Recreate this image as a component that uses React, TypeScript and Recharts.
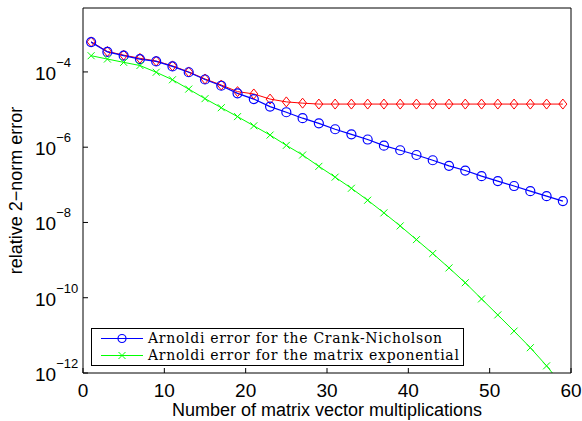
import { LineChart, Line, XAxis, YAxis, Legend } from 'recharts'

// number of matrix-vector multiplications (odd steps)
const steps = [1, 3, 5, 7, 9, 11, 13, 15, 17, 19, 21, 23, 25, 27, 29, 31, 33, 35, 37, 39, 41, 43, 45, 47, 49, 51, 53, 55, 57, 59]

// Arnoldi error for the Crank-Nicholson (blue circles)
const crankNicholson = [
  6.2e-4, 3.4e-4, 2.7e-4, 2.2e-4, 1.9e-4, 1.4e-4, 9.8e-5, 6.3e-5, 4.3e-5, 2.7e-5,
  1.9e-5, 1.2e-5, 8.5e-6, 5.9e-6, 4.3e-6, 3.0e-6, 2.2e-6, 1.6e-6, 1.1e-6, 8.3e-7,
  6.2e-7, 4.5e-7, 3.2e-7, 2.4e-7, 1.7e-7, 1.26e-7, 9.3e-8, 6.8e-8, 5.0e-8, 3.7e-8,
]

// red diamonds, levels off around 1.4e-5 (not in legend)
const crankNicholsonTotal = [
  6.3e-4, 3.5e-4, 2.8e-4, 2.3e-4, 1.95e-4, 1.45e-4, 1.0e-4, 6.5e-5, 4.5e-5, 3.0e-5,
  2.6e-5, 1.9e-5, 1.6e-5, 1.48e-5, 1.4e-5, 1.4e-5, 1.4e-5, 1.4e-5, 1.4e-5, 1.4e-5,
  1.4e-5, 1.4e-5, 1.4e-5, 1.4e-5, 1.4e-5, 1.4e-5, 1.4e-5, 1.4e-5, 1.4e-5, 1.4e-5,
]

// Arnoldi error for the matrix exponential (green crosses)
const matrixExponential = [
  2.7e-4, 2.2e-4, 1.8e-4, 1.48e-4, 9.8e-5, 6.2e-5, 3.5e-5, 1.95e-5, 1.12e-5, 6.5e-6,
  3.7e-6, 2.1e-6, 1.12e-6, 6.2e-7, 3.1e-7, 1.6e-7, 8.1e-8, 3.9e-8, 1.8e-8, 8.1e-9,
  3.5e-9, 1.5e-9, 6.2e-10, 2.5e-10, 9.3e-11, 3.5e-11, 1.3e-11, 4.7e-12, 1.55e-12, 4.5e-13,
]

const xTicks = [0, 10, 20, 30, 40, 50, 60]
const yTicks = [1e-12, 1e-10, 1e-8, 1e-6, 1e-4]

const data = steps.map((s, i) => ({
  step: s,
  cn: crankNicholson[i],
  total: crankNicholsonTotal[i],
  expm: matrixExponential[i],
}))

const BLUE = '#0000ff'
const RED = '#ff0000'
const GREEN = '#00ff00'
const SANS = '"Liberation Sans", Arial, sans-serif'
const SERIF = '"DejaVu Serif", "Liberation Serif", serif'

const CircleDot = (p: any) =>
  p.cx == null ? null : (
    <circle key={`c-${p.index}`} cx={p.cx} cy={p.cy} r={4.5} fill="none" stroke={BLUE} strokeWidth={1.2} />
  )

const DiamondDot = (p: any) =>
  p.cx == null ? null : (
    <polygon
      key={`d-${p.index}`}
      points={`${p.cx},${p.cy - 5} ${p.cx + 4},${p.cy} ${p.cx},${p.cy + 5} ${p.cx - 4},${p.cy}`}
      fill="none"
      stroke={RED}
      strokeWidth={1}
    />
  )

const CrossDot = (p: any) =>
  p.cx == null ? null : (
    <path
      key={`x-${p.index}`}
      d={`M${p.cx - 3.5},${p.cy - 3.5}L${p.cx + 3.5},${p.cy + 3.5}M${p.cx - 3.5},${p.cy + 3.5}L${p.cx + 3.5},${p.cy - 3.5}`}
      stroke={GREEN}
      strokeWidth={1}
    />
  )

const PowerTick = ({ x, y, payload }: any) => {
  const exp = Math.round(Math.log10(payload.value))
  return (
    <text x={x - 53} y={y + 8} fontFamily={SANS} fontSize={19} fill="#000">
      10
      <tspan dy={-13} fontSize={13}>{'\u2212' + Math.abs(exp)}</tspan>
    </text>
  )
}

const NumberTick = ({ x, y, payload }: any) => (
  <text x={x} y={y + 29} textAnchor="middle" fontFamily={SANS} fontSize={19} fill="#000">
    {payload.value}
  </text>
)

const XTitle = ({ viewBox }: any) => (
  <text
    x={viewBox.x + viewBox.width / 2}
    y={viewBox.y + 43}
    textAnchor="middle"
    fontFamily={SANS}
    fontSize={18}
    fill="#000"
  >
    Number of matrix vector multiplications
  </text>
)

const YTitle = ({ viewBox }: any) => {
  const cx = 16
  const cy = viewBox.y + viewBox.height / 2
  return (
    <text
      x={cx}
      y={cy}
      transform={`rotate(-90 ${cx} ${cy})`}
      textAnchor="middle"
      dominantBaseline="central"
      fontFamily={SANS}
      fontSize={18}
      fill="#000"
    >
      relative 2−norm error
    </text>
  )
}

const LegendBox = ({ payload }: any) => (
  <div
    style={{
      border: '1px solid #000',
      background: '#fff',
      width: 371,
      height: 35,
      paddingTop: 1,
      fontFamily: SERIF,
      fontSize: 14,
      letterSpacing: 0.7,
      color: '#000',
    }}
  >
    {(payload || [])
      .filter((item: any) => item.dataKey !== 'total')
      .map((item: any) => (
        <div key={item.value} style={{ display: 'flex', alignItems: 'center', height: 17, whiteSpace: 'nowrap' }}>
          <svg width={56} height={17} style={{ flex: 'none' }}>
            <line x1={9} y1={8.5} x2={51} y2={8.5} stroke={item.color} strokeWidth={1.2} />
            {item.dataKey === 'cn' ? (
              <circle cx={30} cy={8.5} r={4} fill="none" stroke={item.color} strokeWidth={1.2} />
            ) : (
              <path d="M26.5,5L33.5,12M26.5,12L33.5,5" stroke={item.color} strokeWidth={1} />
            )}
          </svg>
          <span style={{ lineHeight: '17px' }}>{item.value}</span>
        </div>
      ))}
  </div>
)

export default function App() {
  return (
    <div style={{ position: 'absolute', left: 0, top: 0, width: 582, height: 421, background: '#fff' }}>
      <LineChart width={582} height={421} data={data} margin={{ top: 7, right: 10, bottom: 0, left: 0 }}>
        <XAxis
          dataKey="step"
          type="number"
          domain={[0, 60]}
          ticks={xTicks}
          height={48}
          tickSize={-5}
          tickMargin={0}
          tick={<NumberTick />}
          axisLine={{ stroke: '#000' }}
          tickLine={{ stroke: '#000' }}
          label={XTitle}
        />
        <XAxis
          xAxisId="top"
          orientation="top"
          dataKey="step"
          type="number"
          domain={[0, 60]}
          ticks={xTicks}
          height={1}
          tickSize={-5}
          tick={false}
          axisLine={{ stroke: '#000' }}
          tickLine={{ stroke: '#000' }}
        />
        <YAxis
          scale="log"
          type="number"
          domain={[1e-12, 5e-3]}
          allowDataOverflow
          ticks={yTicks}
          width={83}
          tickSize={-5}
          tickMargin={0}
          tick={<PowerTick />}
          axisLine={{ stroke: '#000' }}
          tickLine={{ stroke: '#000' }}
          label={YTitle}
        />
        <YAxis
          yAxisId="right"
          orientation="right"
          scale="log"
          type="number"
          domain={[1e-12, 5e-3]}
          allowDataOverflow
          ticks={yTicks}
          width={1}
          tickSize={-5}
          tick={false}
          axisLine={{ stroke: '#000' }}
          tickLine={{ stroke: '#000' }}
        />
        <Legend
          layout="horizontal"
          verticalAlign="middle"
          align="center"
          content={LegendBox}
          wrapperStyle={{ left: 91, top: 328, width: 'auto', height: 'auto' }}
        />
        <Line
          dataKey="total"
          name="total"
          legendType="none"
          stroke={RED}
          strokeWidth={1}
          dot={DiamondDot}
          isAnimationActive={false}
        />
        <Line
          dataKey="cn"
          name="Arnoldi error for the Crank-Nicholson"
          stroke={BLUE}
          strokeWidth={1.2}
          dot={CircleDot}
          isAnimationActive={false}
        />
        <Line
          dataKey="expm"
          name="Arnoldi error for the matrix exponential"
          stroke={GREEN}
          strokeWidth={1}
          dot={CrossDot}
          isAnimationActive={false}
        />
      </LineChart>
    </div>
  )
}
